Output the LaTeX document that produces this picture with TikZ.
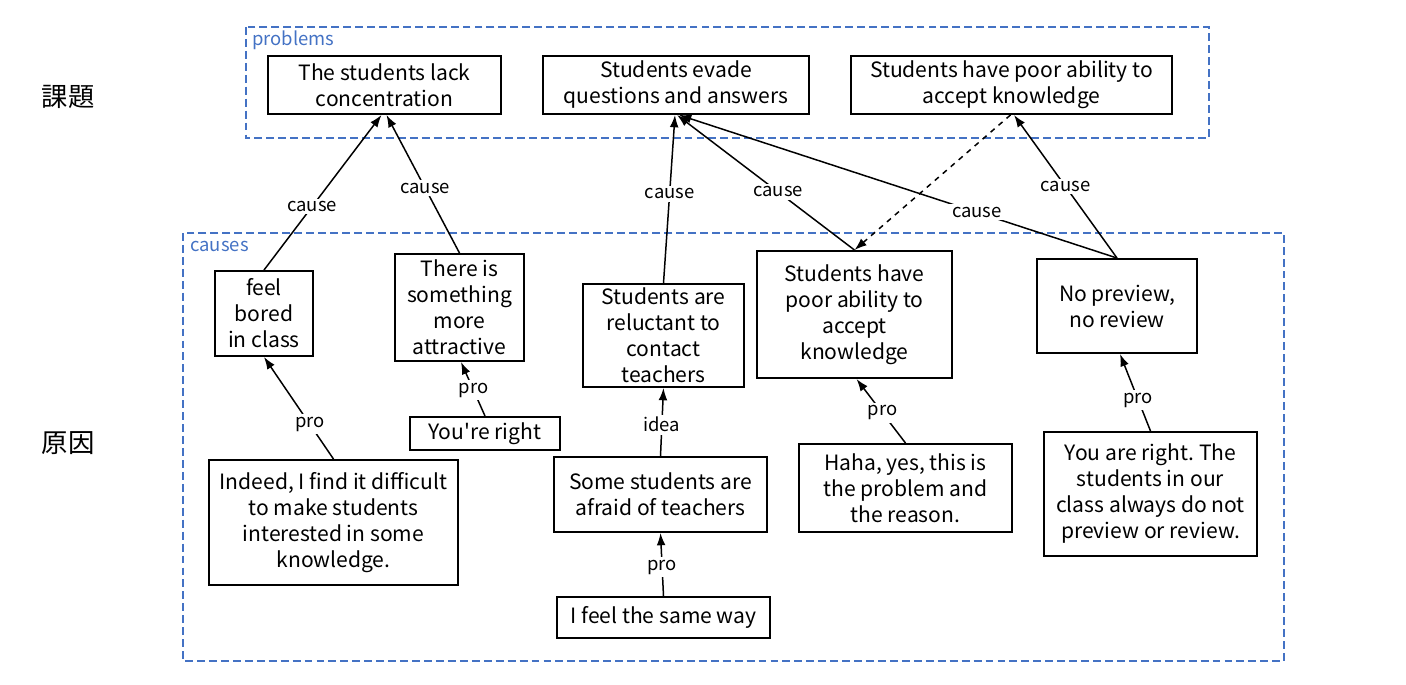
\documentclass[tikz,border=0pt]{standalone}
\usepackage{fontspec}
\setmainfont{Noto Sans CJK JP}
\usepackage{xcolor}
\usetikzlibrary{arrows.meta,calc}
\definecolor{grpblue}{HTML}{4472C4}
\frenchspacing

\tikzset{
  box/.style={draw,line width=1.1pt,align=center,inner sep=0pt,
    font=\fontsize{12}{14.8}\selectfont},
  sz/.style 2 args={minimum width=#1*0.02cm,minimum height=#2*0.02cm},
  grp/.style={draw=grpblue,line width=0.85pt,dash pattern=on 4.5pt off 2.3pt},
  grplbl/.style={anchor=west,text=grpblue,inner sep=0pt,font=\fontsize{10.5}{12}\selectfont},
  arr/.style={-{Latex[length=7pt,width=5pt]},line width=0.85pt},
  lbl/.style={fill=white,inner sep=1.5pt,font=\fontsize{10.5}{12}\selectfont}
}

\begin{document}
\begin{tikzpicture}[x=0.02cm,y=-0.02cm]
\useasboundingbox (0,0) rectangle (1406,684);

% groups
\draw [grp] (246,27) rectangle (1209,138);
\node [grplbl] (lprob) at (252,40) {problems};
\draw [grp] (183,233) rectangle (1284,661);
\node [grplbl] (lcaus) at (190,246) {causes};

\node [font=\fontsize{15}{18}\selectfont] (kadai) at (68,97) {課題};
\node [font=\fontsize{15}{18}\selectfont] (genin) at (68,443) {原因};

% problems
\node [box,sz={233}{58}] (p1) at (384.5,85) {The students lack\\concentration};
\node [box,sz={266}{58}] (p2) at (676,85) {Students evade\\questions and answers};
\node [box,sz={321}{58}] (p3) at (1011.5,85) {Students have poor ability to\\accept knowledge};

% causes
\node [box,sz={98}{85}] (c1) at (264,313.5) {feel\\bored\\in class};
\node [box,sz={129}{107}] (c2) at (459.5,307.5) {There is\\something\\more\\attractive};
\node [box,sz={150}{33}] (c3) at (485,433.5) {You\textquotesingle re right};
\node [box,sz={249}{125}] (c4) at (333.5,522.5) {Indeed, I find it difficult\\to make students\\interested in some\\knowledge.};
\node [box,sz={161}{103}] (c5) at (663.5,335.5) {Students are\\reluctant to\\contact\\teachers};
\node [box,sz={213}{75}] (c6) at (660.5,494.5) {Some students are\\afraid of teachers};
\node [box,sz={213}{41}] (c7) at (663.5,617.5) {I feel the same way};
\node [box,sz={195}{127}] (c8) at (854.5,314.5) {Students have\\poor ability to\\accept\\knowledge};
\node [box,sz={213}{88}] (c9) at (905.5,488) {Haha, yes, this is\\the problem and\\the reason.};
\node [box,sz={160}{94}] (c10) at (1117,306) {No preview,\\no review};
\node [box,sz={213}{124}] (c11) at (1150.5,494) {You are right. The\\students in our\\class always do not\\preview or review.};

% links
\draw [arr] (c1.north) -- node[lbl,pos=.41]{cause} ($(p1.south)+(-3,0)$);
\draw [arr] (c2.north) -- node[lbl,pos=.47]{cause} ($(p1.south)+(2,0)$);
\draw [arr] (c5.north) -- node[lbl,pos=.53]{cause} ($(p2.south)+(-1,0)$);
\draw [arr] (c8.north) -- node[lbl,pos=.43]{cause} ($(p2.south)+(1,0)$);
\draw [arr] (c10.north) -- node[lbl,pos=.32]{cause} ($(p2.south)+(3,0)$);
\draw [arr] (c10.north) -- node[lbl,pos=.5]{cause} ($(p3.south)+(2.5,0)$);
\draw [arr,dashed] ($(p3.south)+(-1,0)$) -- (c8.north);

\draw [arr] (c4.north) -- node[lbl,pos=.34]{pro} (c1.south);
\draw [arr] (c3.north) -- node[lbl,pos=.48]{pro} ($(c2.south)+(1.5,0)$);
\draw [arr] (c6.north) -- node[lbl,pos=.46]{idea} (c5.south);
\draw [arr] (c7.north) -- node[lbl,pos=.46]{pro} (c6.south);
\draw [arr] (c9.north) -- node[lbl,pos=.47]{pro} ($(c8.south)+(2,0)$);
\draw [arr] (c11.north) -- node[lbl,pos=.4]{pro} ($(c10.south)+(3,0)$);
\end{tikzpicture}
\end{document}
